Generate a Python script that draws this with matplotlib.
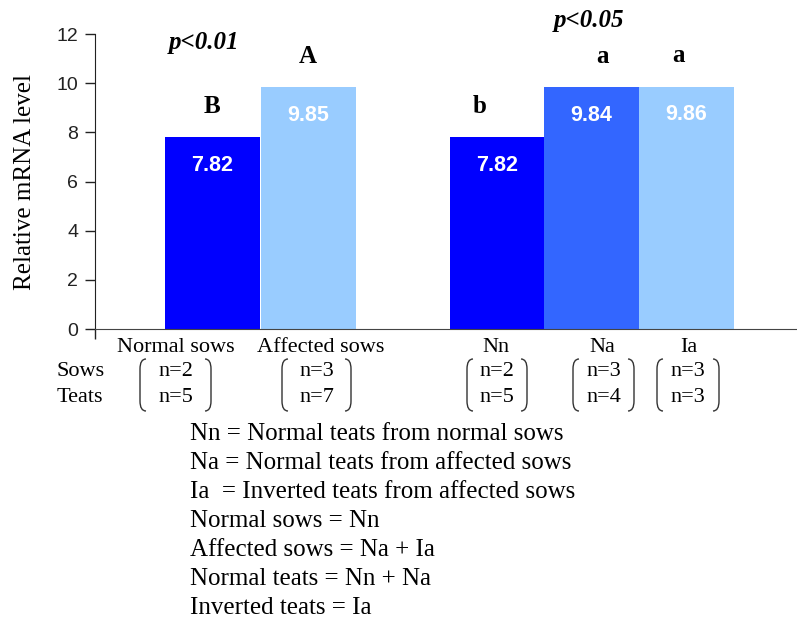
import matplotlib
matplotlib.use("Agg")
import matplotlib.pyplot as plt
import matplotlib.transforms as mtransforms
from matplotlib.path import Path
from matplotlib.patches import PathPatch

# data
groups = ["Normal sows", "Affected sows", "Nn", "Na", "Ia"]
values = [7.82, 9.85, 7.82, 9.84, 9.86]
letters = ["B", "A", "b", "a", "a"]
sows_n = ["n=2", "n=3", "n=2", "n=3", "n=3"]
teats_n = ["n=5", "n=7", "n=5", "n=4", "n=3"]
bar_colors = ["#0000FF", "#99CCFF", "#0000FF", "#3366FF", "#99CCFF"]
xpos = [0, 1, 2.97, 3.95, 4.94]
yticks = [0, 2, 4, 6, 8, 10, 12]
notes = ["Nn = Normal teats from normal sows",
         "Na = Normal teats from affected sows",
         "Ia  = Inverted teats from affected sows",
         "Normal sows = Nn",
         "Affected sows = Na + Ia",
         "Normal teats = Nn + Na",
         "Inverted teats = Ia"]

W, H = 797, 628
serif = "Liberation Serif"
sans = "Liberation Sans"

fig = plt.figure(figsize=(W / 100, H / 100), dpi=100)
ax = fig.add_axes([95 / W, 1 - 329 / H, 702 / W, 295 / H])

ax.bar(xpos, values, width=0.99, color=bar_colors, edgecolor="none")
ax.set_xlim(-1.22, 6.09)
ax.set_ylim(0, 12)
ax.set_yticks(yticks)
ax.set_yticklabels([str(t) for t in yticks], fontfamily=sans, fontsize=14, color="#222222")
ax.tick_params(axis="y", length=7, width=1, pad=5, color="#222222")
ax.set_xticks([-1.22])
ax.set_xticklabels([""])
ax.tick_params(axis="x", length=7, width=1, color="#222222")
for s in ["top", "right"]:
    ax.spines[s].set_visible(False)
ax.spines["left"].set_color("#222222")
ax.spines["bottom"].set_color("#444444")
ax.set_ylabel("Relative mRNA level", fontfamily=serif, fontsize=18, labelpad=15)

# small horizontal nudges of the letters, as in the original
letter_dx = [0, 0, -0.19, 0.11, -0.08]
for x, v, let, dx in zip(xpos, values, letters, letter_dx):
    ax.text(x, v - 1.15, f"{v:.2f}", ha="center", va="center", color="white",
            fontfamily=sans, fontweight="bold", fontsize=15.5)
    ax.text(x + dx, v + 1.25, let, ha="center", va="center", color="black",
            fontfamily=serif, fontweight="bold", fontsize=18)

# pixel coordinates of the reference image, y downward
pix = mtransforms.Affine2D().scale(1 / W, -1 / H).translate(0, 1) + fig.transFigure

def ptext(x, y, s, **kw):
    fig.text(x, y, s, transform=pix, fontfamily=serif, **kw)

ptext(204, 43, "p<0.01", ha="center", va="center", fontsize=18, fontweight="bold", style="italic")
ptext(589, 20, "p<0.05", ha="center", va="center", fontsize=18, fontweight="bold", style="italic")

label_x = [176, 321, 496, 602, 689]
for x, g in zip(label_x, groups):
    ptext(x, 347, g, ha="center", va="center", fontsize=16)

ptext(57, 371, "Sows", ha="left", va="center", fontsize=16)
ptext(57, 397, "Teats", ha="left", va="center", fontsize=16)

brackets = [(140, 211), (282, 351), (467, 527), (573, 634), (657, 719)]

def bracket(x, top, bot, d):
    verts = [(x + d, top), (x, top), (x, top + 10), (x, bot - 10), (x, bot), (x + d, bot)]
    codes = [Path.MOVETO, Path.CURVE3, Path.CURVE3, Path.LINETO, Path.CURVE3, Path.CURVE3]
    fig.add_artist(PathPatch(Path(verts, codes), transform=pix, fill=False,
                             edgecolor="#333333", linewidth=1.0))

for (xl, xr), x, s, t in zip(brackets, label_x, sows_n, teats_n):
    bracket(xl, 359, 411, 6)
    bracket(xr, 359, 411, -6)
    cx = (xl + xr) / 2
    ptext(cx, 371, s, ha="center", va="center", fontsize=16)
    ptext(cx, 397, t, ha="center", va="center", fontsize=16)

for i, line in enumerate(notes):
    ptext(190, 434 + 29 * i, line, ha="left", va="center", fontsize=18)

fig.savefig("out.png", dpi=100)
